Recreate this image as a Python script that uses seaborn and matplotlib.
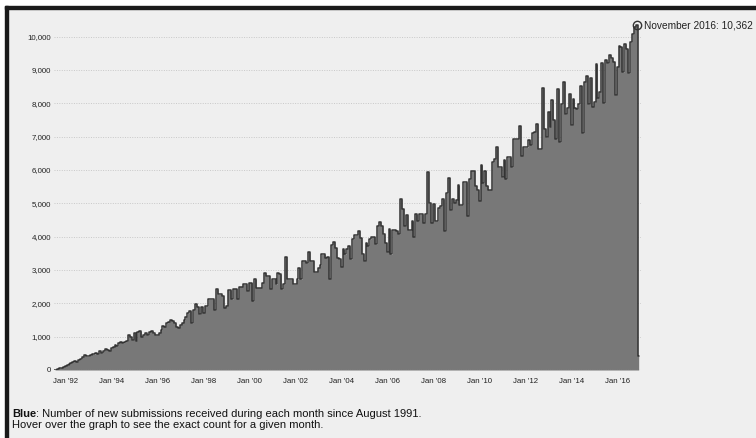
import pandas as pd
import numpy as np
import matplotlib.pyplot as plt
import matplotlib.dates as mdates
import matplotlib.ticker as mticker
from matplotlib.patches import Rectangle
import seaborn as sns

# monthly new submissions (Jul 1991 = 0, nothing yet)
y1991 = [0, 15, 40, 60, 75, 90]
y1992 = [130, 150, 190, 220, 240, 260, 250, 300, 320, 400, 440, 410]
y1993 = [410, 450, 480, 470, 500, 480, 560, 500, 560, 640, 600, 580]
y1994 = [650, 700, 760, 720, 820, 850, 800, 830, 870, 1050, 1000, 900]
y1995 = [1100, 880, 1150, 1160, 1000, 1050, 1100, 1040, 1150, 1170, 1100, 1050]
y1996 = [1050, 1120, 1200, 1330, 1300, 1400, 1450, 1500, 1470, 1400, 1300, 1270]
y1997 = [1350, 1420, 1500, 1600, 1700, 1770, 1400, 1800, 1980, 1900, 1670, 1900]
y1998 = [1720, 1920, 1920, 2120, 2120, 2120, 1800, 2420, 2270, 2270, 2220, 1870]
y1999 = [1920, 2400, 2400, 2120, 2440, 2440, 2140, 2500, 2500, 2570, 2570, 2370]
y2000 = [2620, 2620, 2070, 2720, 2470, 2470, 2470, 2620, 2920, 2820, 2820, 2440]
y2001 = [2720, 2720, 2570, 2920, 2870, 2420, 2570, 3400, 2720, 2720, 2720, 2570]
y2002 = [2570, 2720, 3070, 2720, 3270, 3270, 3200, 3540, 3270, 3270, 2940, 2940]
y2003 = [3070, 3150, 3470, 3470, 3370, 3400, 2740, 3740, 3840, 3670, 3370, 3320]
y2004 = [3100, 3620, 3470, 3640, 3720, 3320, 3920, 4040, 4040, 4170, 3970, 3470]
y2005 = [3270, 3820, 3720, 3920, 4000, 4000, 3770, 4320, 4440, 4320, 4070, 3820]
y2006 = [3540, 4220, 3470, 4200, 4200, 4170, 4070, 5120, 4840, 4320, 4640, 4200]
y2007 = [4200, 4470, 4000, 4670, 4470, 4670, 4670, 4420, 4670, 5940, 5000, 4420]
y2008 = [4970, 4470, 4470, 4870, 4920, 5120, 4170, 5300, 5770, 4800, 5120, 5020]
y2009 = [5100, 5540, 4950, 4950, 5630, 5630, 4630, 5730, 5980, 5980, 5530, 5400]
y2010 = [5080, 6150, 5610, 5980, 5530, 5410, 5410, 6230, 6330, 6680, 6080, 6080]
y2011 = [5780, 6310, 5730, 6380, 6380, 6080, 6930, 6930, 6930, 7330, 6430, 6680]
y2012 = [6680, 6680, 6910, 6750, 7110, 7150, 7380, 6630, 6630, 8460, 7230, 6980]
y2013 = [7750, 7300, 8100, 7500, 6930, 8430, 6830, 7970, 8650, 7670, 7850, 8270]
y2014 = [7350, 8130, 7850, 7830, 7970, 8530, 7100, 8650, 8830, 7970, 8750, 7900]
y2015 = [8030, 9170, 8170, 8350, 9200, 8000, 9300, 9200, 9450, 9350, 9250, 8250]
y2016 = [9100, 9730, 9700, 8930, 9770, 9630, 8900, 9830, 10070, 10300, 10362, 430]

tick_years = list(range(1992, 2017, 2))
peak_label = "November 2016: 10,362"
caption_bold = "Blue"
caption_rest = ": Number of new submissions received during each month since August 1991."
caption_line2 = "Hover over the graph to see the exact count for a given month."

counts = (y1991 + y1992 + y1993 + y1994 + y1995 + y1996 + y1997 + y1998 + y1999
          + y2000 + y2001 + y2002 + y2003 + y2004 + y2005 + y2006 + y2007 + y2008
          + y2009 + y2010 + y2011 + y2012 + y2013 + y2014 + y2015 + y2016)
months = pd.date_range("1991-07-01", periods=len(counts), freq="MS")
df = pd.DataFrame({"month": months, "submissions": counts})

sns.set_style("white")
plt.rcParams["font.family"] = ["Liberation Sans", "DejaVu Sans"]

bg = "#efefef"
fig = plt.figure(figsize=(7.56, 4.38), dpi=100, facecolor=bg)
W, H = 756, 438
ax = fig.add_axes([54 / W, 1 - 370 / H, (641 - 54) / W, (370 - 20) / H])
ax.set_facecolor(bg)

ax.fill_between(df["month"], df["submissions"], step="mid", color="#787878", lw=0, zorder=2)
sns.lineplot(data=df, x="month", y="submissions", ax=ax, drawstyle="steps-mid",
             color="#333333", lw=1.1, estimator=None, zorder=3)
ax.axhline(0, color="#b0b0b0", lw=0.8, ls=(0, (1, 1)), zorder=4)

ax.set_ylim(0, 10500)
ax.set_xlim(pd.Timestamp("1991-06-30"), pd.Timestamp("2017-01-07"))
ax.set_yticks(np.arange(0, 10001, 1000))
ax.yaxis.set_major_formatter(mticker.FuncFormatter(lambda v, p: f"{int(v):,}"))
ax.set_xticks([pd.Timestamp(f"{y}-01-01") for y in tick_years])
ax.xaxis.set_major_formatter(mdates.DateFormatter("%b '%y"))

ax.yaxis.grid(True, color="#c8c8c8", ls=(0, (1, 1.5)), lw=0.7)
ax.xaxis.grid(False)
ax.set_axisbelow(True)
for s in ax.spines.values():
    s.set_visible(False)
ax.tick_params(axis="x", length=4, width=0.8, color="#aaaaaa", labelsize=5.7, pad=2, labelcolor="#222222")
ax.tick_params(axis="y", length=0, labelsize=5.7, pad=2, labelcolor="#222222")
ax.set_xlabel("")
ax.set_ylabel("")

# peak marker + label
last = df.iloc[-2]
ax.plot(last["month"], last["submissions"], "o", mfc="none", mec="#333333", ms=6, mew=1,
        clip_on=False, zorder=5)
ax.annotate(peak_label, xy=(last["month"], last["submissions"]), xytext=(5.5, -1),
            textcoords="offset points", va="center", ha="left", fontsize=7.3,
            color="#222222", annotation_clip=False)

# caption
t1 = fig.text(12 / W, 1 - 414 / H, caption_bold, weight="bold", fontsize=8, va="center", color="#111111")
ax.annotate(caption_rest, xy=(1, 0), xycoords=t1, va="bottom", ha="left", fontsize=8,
            color="#111111", annotation_clip=False)
fig.text(12 / W, 1 - 425 / H, caption_line2, fontsize=8, va="center", color="#111111")

# frame: white margin then black bar on top and left
fig.patches.extend([
    Rectangle((0, 1 - 6 / H), 1, 6 / H, transform=fig.transFigure, color="white", zorder=0),
    Rectangle((0, 0), 5 / W, 1, transform=fig.transFigure, color="white", zorder=0),
    Rectangle((5 / W, 1 - 9 / H), 1, 3 / H, transform=fig.transFigure, color="#1a1a1a", zorder=1),
    Rectangle((5 / W, 0), 3 / W, 1 - 6 / H, transform=fig.transFigure, color="#1a1a1a", zorder=1),
])

fig.savefig("out.png", dpi=100, facecolor=fig.get_facecolor())
